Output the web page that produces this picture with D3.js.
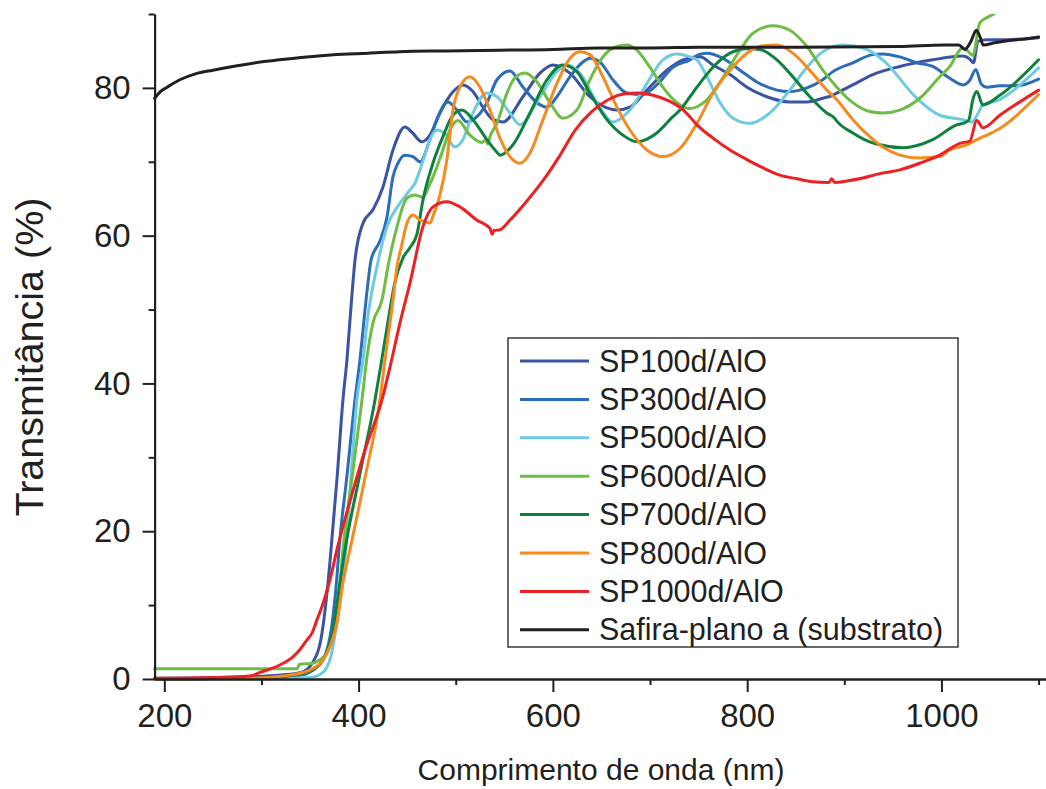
<!DOCTYPE html>
<html>
<head>
<meta charset="utf-8">
<script src="https://cdn.jsdelivr.net/npm/d3@7"></script>
<style>
  html, body { margin: 0; padding: 0; background: #fff; }
  svg { display: block; font-family: "Liberation Sans", Arial, sans-serif; }
</style>
</head>
<body>
<svg id="chart" width="1046" height="789"></svg>
<script>
// Transmittance spectra: [wavelength (nm), transmittance (%)]
const sp100 = [[190,0.1],[250,0.15],[290,0.3],[320,0.55],[340,0.85],[353,2.3],[362.3,6.2],[367.4,11.6],[371.6,17.5],[378,27.5],[383.9,37.8],[388,43.2],[391.1,48.5],[396.3,56.7],[404.6,61.7],[414.8,63.5],[425.1,66.6],[435.4,71.6],[447.7,74.7],[454.9,74.0],[465.2,72.7],[473.4,73.6],[483.7,76.6],[496.1,79.3],[507.4,80.4],[517.7,79.5],[528,77.4],[538.3,75.7],[548.6,75.4],[569.2,78.8],[586.7,82.0],[600,83.1],[617.5,82.0],[638.1,78.8],[655.6,77.3],[665.9,77.0],[679.3,77.4],[696.8,79.7],[717.4,82.4],[733.9,83.8],[751.4,84.2],[764.8,83.1],[782.3,81.8],[799.8,80.1],[820.2,78.8],[843.9,78.1],[861.5,78.1],[877.9,78.6],[888,79.0],[892.3,79.3],[908.8,80.4],[929.4,81.8],[957.1,82.9],[991.1,83.8],[1022,84.3],[1029.2,83.9],[1033,83.4],[1037.5,86.3],[1046.7,86.5],[1060.1,86.5],[1080,86.6],[1100,86.8]];

const sp300 = [[190,0.05],[300,0.1],[339.7,0.5],[357.1,1.6],[367.4,3.9],[373.6,8.4],[377.7,13.8],[379.8,17.5],[388,27.5],[396.3,37.8],[401.4,43.2],[408.7,52.5],[412.8,56.7],[422,59.3],[429.2,62.5],[435.4,68.0],[440.5,69.8],[447.7,70.9],[456,70.7],[463.2,70.0],[473.4,73.0],[481.7,76.1],[492,78.1],[501.2,77.0],[511.5,75.4],[521.8,76.1],[532.1,78.0],[542.4,81.1],[555.8,82.3],[569.2,80.1],[583.6,78.0],[593.9,77.4],[604.1,78.8],[617.5,81.5],[630.9,83.5],[638.1,84.0],[648.4,83.5],[661.8,81.1],[676.2,79.3],[692.6,79.1],[707,80.4],[723.5,82.8],[741.1,83.8],[750,84.5],[758.6,84.7],[775.1,84.0],[792.6,82.4],[810,80.8],[830.6,79.7],[843.9,79.5],[861.5,80.0],[877.9,81.1],[888.2,82.2],[908.8,83.4],[929.4,84.5],[939.6,84.6],[957.1,84.2],[974.6,83.4],[991.1,82.9],[1008.6,81.3],[1022,80.4],[1029,81.0],[1035.4,82.5],[1041,80.5],[1046.7,80.1],[1060.1,80.3],[1077.6,80.3],[1100,81.2]];

const sp500 = [[190,0.0],[300,0.05],[349.9,0.2],[362.3,0.8],[370.5,2.6],[377.7,7.6],[383.9,13.8],[387,17.5],[392,27],[398.3,37.8],[404.6,43.2],[408.7,48.2],[418.9,55.8],[429.2,61.2],[442.6,64.4],[452.9,66.2],[458,67.1],[463.2,68.9],[468.3,71.0],[473.4,73.0],[480.6,74.3],[488.9,73.8],[499.2,72.0],[507.4,73.0],[517.7,76.6],[532.1,79.3],[542.4,78.8],[555.8,76.6],[566.1,75.0],[586.7,78.8],[604.1,82.2],[614.4,83.1],[627.8,82.0],[645.3,78.0],[661.8,75.4],[679.3,77.0],[696.8,80.6],[713.2,83.8],[727.7,84.6],[741.1,84.2],[748.3,83.8],[758.6,81.5],[772,78.0],[785.4,75.9],[802.7,75.2],[823.3,76.6],[843.9,79.7],[861.5,82.8],[877.9,84.9],[898.5,85.8],[919.1,85.4],[939.6,83.8],[974.6,78.6],[998.3,76.3],[1022,75.7],[1031.3,75.4],[1037.5,76.5],[1042.6,77.7],[1060.1,78.4],[1070.4,79.3],[1100,82.7]];

const sp600 = [[190,1.4],[337,1.4],[339,2.0],[352,2.1],[360,2.6],[367.4,3.5],[375.7,7.6],[380.8,13.0],[383.9,17.5],[394,28],[403.5,37.8],[408.7,43.6],[414.8,48.2],[424.1,51.3],[430.2,55.8],[439.5,61.2],[449.8,65.1],[458,65.5],[466.2,65.2],[473.4,67.0],[480.6,69.3],[486.8,71.6],[494,74.3],[502.3,75.6],[514.6,73.6],[526.9,72.6],[531,73.0],[533,72.4],[535.2,73.4],[542.4,75.2],[552.7,79.3],[560,81.2],[571,82.0],[583.6,80.8],[597,78.0],[610.3,75.9],[624.7,77.0],[638.1,81.1],[651.5,84.2],[665.9,85.6],[676.2,85.8],[686.5,85.1],[699.8,82.8],[713.2,80.1],[727.7,78.0],[740,77.2],[758.6,78.4],[775.1,81.4],[792.6,85.1],[805.9,87.4],[826.5,88.4],[843.9,87.8],[861.5,85.6],[877.9,82.4],[892.3,80.1],[908.8,78.0],[926.2,76.8],[939.6,76.6],[957.1,77.0],[977.7,78.6],[998.3,81.5],[1008.6,82.9],[1022,85.4],[1027,85.0],[1032.3,84.4],[1039.5,88.8],[1054.9,90.1],[1070,92]];

const sp700 = [[190,0.0],[300,0.1],[346.9,0.9],[363.3,2.6],[373.6,6.6],[380.8,13.0],[386,17.5],[401,27.5],[416.9,37.8],[424.1,43.4],[432.3,50.0],[437,53.5],[445.7,57.0],[452.9,58.4],[460.1,60.2],[466.2,64.8],[476.5,69.8],[486.8,73.4],[497.1,76.3],[506.4,77.0],[517.7,75.7],[532.1,73.0],[542.4,71.3],[545.5,70.9],[558.9,72.3],[576.4,76.6],[593.9,81.1],[610.3,83.1],[624.7,82.2],[638.1,79.3],[655.6,75.7],[672.1,73.6],[686.5,72.7],[707,73.9],[723.5,76.1],[730.8,77.0],[741.1,78.8],[748.3,80.1],[764.8,82.8],[782.3,84.7],[799.8,85.3],[813,85.2],[830.6,83.8],[847,81.5],[864.5,78.8],[882,76.6],[890,75.9],[892.3,75.5],[908.8,73.9],[926.2,72.7],[936.6,72.3],[960.2,71.9],[991.1,73.0],[1015.8,75.0],[1024.1,75.3],[1028,75.6],[1032.3,78.4],[1036.4,79.5],[1042.6,77.7],[1060.1,79.0],[1100,83.8]];

const sp800 = [[190,0.0],[288,0.1],[322.2,0.4],[349.9,1.2],[367.4,3.5],[377.7,7.6],[383.9,13.0],[391.1,17.5],[407,27.5],[422,37.8],[427.2,43.2],[435.4,51.3],[439.5,55.8],[444,58.5],[449.8,61.7],[456,62.8],[463.2,62.1],[468.3,61.9],[473.4,61.7],[477,62.8],[483.7,65.5],[490.9,70.3],[497.1,77.0],[504.3,80.1],[514.6,81.5],[524.9,80.1],[535.2,77.0],[545.5,73.2],[555.8,70.7],[566.1,69.8],[576.4,71.2],[589.8,75.7],[604.1,80.6],[617.5,84.0],[627.8,84.9],[638.1,84.5],[651.5,81.5],[665.9,77.4],[679.3,74.3],[696.8,71.6],[713.2,70.7],[730.8,71.8],[748.3,75.2],[764.8,79.3],[782.3,82.4],[799.8,84.7],[816.1,85.7],[830.6,85.8],[847,84.7],[864.5,82.4],[882,79.7],[892.3,78.4],[908.8,75.7],[926.2,73.4],[939.6,72.0],[957.1,70.9],[977.7,70.5],[998.3,70.7],[1008.6,71.6],[1026.1,72.3],[1036.4,73.0],[1060.1,74.5],[1100,79.1]];

const sp1000 = [[190,0.1],[250,0.2],[288,0.4],[298.5,0.9],[319,1.9],[332.4,3.0],[339.7,4.0],[346.9,5.3],[352,6.2],[357.1,8.0],[362.3,9.8],[370.5,13.4],[377.7,17.5],[391,24.0],[406.6,31.0],[424.1,37.8],[432.3,42.2],[442.6,48.2],[452.9,53.6],[466.2,61.2],[476.5,63.9],[490.9,64.6],[504.3,63.9],[521.8,62.1],[535.2,61.0],[537.5,60.2],[539.5,60.7],[545.5,60.8],[555.8,62.1],[572,64.5],[589,67.3],[606,70.6],[623,74.3],[640,76.8],[657,78.4],[674,79.2],[688,79.3],[703,79.0],[720,78.2],[736,76.8],[748.3,75.0],[764.8,73.2],[782.3,71.6],[799.8,70.3],[816.1,69.2],[833.6,68.2],[851.2,67.7],[867.6,67.3],[884,67.2],[887,67.7],[890,67.2],[902.6,67.4],[919.1,67.8],[936.6,68.4],[957.1,68.9],[977.7,69.8],[998.3,70.9],[1018.9,72.5],[1029.2,72.8],[1036.4,75.6],[1042.6,74.6],[1060.1,76.3],[1100,79.7]];

const safira = [[190,78.6],[196,79.5],[203,80.1],[216,81.1],[232,81.9],[250,82.4],[275,83.0],[305,83.6],[340,84.1],[374,84.5],[410,84.7],[442,84.9],[490,85.0],[545,85.1],[600,85.2],[648,85.4],[700,85.4],[751,85.5],[854,85.5],[957,85.6],[1003,85.8],[1018,85.8],[1024,85.2],[1030,86.2],[1036,87.8],[1040,86.8],[1043,85.8],[1055,86.1],[1070,86.4],[1085,86.6],[1100,86.9]];

const seriesLabels = ["SP100d/AlO","SP300d/AlO","SP500d/AlO","SP600d/AlO","SP700d/AlO","SP800d/AlO","SP1000d/AlO","Safira-plano a (substrato)"];
const seriesValues = [sp100, sp300, sp500, sp600, sp700, sp800, sp1000, safira];
const seriesColors = ["#3a53a4","#2b6db7","#6ccbe0","#6dbd45","#10803e","#f68a1f","#ed2024","#231f20"];

const xMajorTicks = [200, 400, 600, 800, 1000];
const xMinorTicks = [300, 500, 700, 900, 1100];
const yMajorTicks = [0, 20, 40, 60, 80];
const yMinorTicks = [10, 30, 50, 70, 90];

const axisColor = "#231f20";
const svg = d3.select("#chart");

const x = d3.scaleLinear().domain([190, 1110]).range([154.6, 1048.3]);
const y = d3.scaleLinear().domain([0, 90]).range([679, 14]);

svg.append("defs").append("clipPath").attr("id", "plot-area")
  .append("rect").attr("x", 150).attr("y", y(90)).attr("width", 900).attr("height", y(0) - y(90) + 4);

const line = d3.line()
  .x(d => x(d[0]))
  .y(d => y(d[1]))
  .curve(d3.curveMonotoneX);

const plot = svg.append("g").attr("clip-path", "url(#plot-area)");
seriesValues.forEach((vals, i) => {
  plot.append("path")
    .datum(vals)
    .attr("d", line)
    .attr("fill", "none")
    .attr("stroke", seriesColors[i])
    .attr("stroke-width", 3)
    .attr("stroke-linejoin", "round")
    .attr("stroke-linecap", "round");
});

function styleAxis(g) {
  g.select(".domain").attr("stroke", axisColor).attr("stroke-width", 2);
  g.selectAll(".tick line").attr("stroke", axisColor).attr("stroke-width", 2);
  g.selectAll(".tick text").attr("fill", axisColor).style("font-size", "33px");
}

// x axis
svg.append("g")
  .attr("transform", `translate(0,${y(0)})`)
  .call(d3.axisBottom(x).tickValues(xMinorTicks).tickSize(6).tickSizeOuter(0).tickFormat(""))
  .call(styleAxis);
svg.append("g")
  .attr("transform", `translate(0,${y(0)})`)
  .call(d3.axisBottom(x).tickValues(xMajorTicks).tickSize(13).tickSizeOuter(0).tickPadding(12).tickFormat(d3.format("d")))
  .call(styleAxis);

// y axis
svg.append("g")
  .attr("transform", `translate(${x(190)},0)`)
  .call(d3.axisLeft(y).tickValues(yMinorTicks).tickSize(6).tickSizeOuter(0).tickFormat(""))
  .call(styleAxis);
svg.append("g")
  .attr("transform", `translate(${x(190)},0)`)
  .call(d3.axisLeft(y).tickValues(yMajorTicks).tickSize(12).tickSizeOuter(0).tickPadding(12).tickFormat(d3.format("d")))
  .call(styleAxis);

// axis titles
svg.append("text")
  .attr("x", 601).attr("y", 780)
  .attr("text-anchor", "middle")
  .attr("fill", axisColor)
  .style("font-size", "30px")
  .text("Comprimento de onda (nm)");

svg.append("text")
  .attr("transform", "translate(43,357) rotate(-90)")
  .attr("text-anchor", "middle")
  .attr("fill", axisColor)
  .style("font-size", "39.5px")
  .text("Transmitância (%)");

// legend
const legend = svg.append("g");
legend.append("rect")
  .attr("x", 508).attr("y", 338).attr("width", 450).attr("height", 309)
  .attr("fill", "#fff").attr("stroke", "#3a3a3a").attr("stroke-width", 1.5);
seriesLabels.forEach((label, i) => {
  const ry = 361 + i * 38.4;
  legend.append("line")
    .attr("x1", 520).attr("x2", 589).attr("y1", ry).attr("y2", ry)
    .attr("stroke", seriesColors[i]).attr("stroke-width", 3);
  legend.append("text")
    .attr("x", 599).attr("y", ry + 10.5)
    .attr("fill", axisColor)
    .style("font-size", "30.5px")
    .text(label);
});
</script>
</body>
</html>
